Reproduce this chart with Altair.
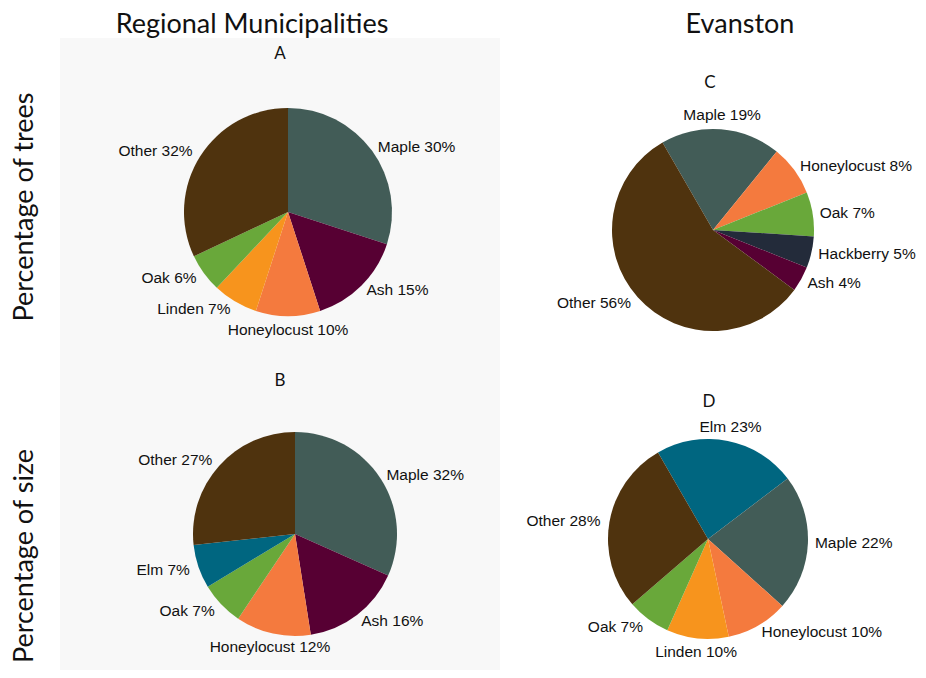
import math
import altair as alt
import pandas as pd

# ---------------- data ----------------
a_species = ["Maple", "Ash", "Honeylocust", "Linden", "Oak", "Other"]
a_values = [30, 15, 10, 7, 6, 32]
b_species = ["Maple", "Ash", "Honeylocust", "Oak", "Elm", "Other"]
b_values = [32, 16, 12, 7, 7, 27]
c_species = ["Maple", "Honeylocust", "Oak", "Hackberry", "Ash", "Other"]
c_values = [19, 8, 7, 5, 4, 56]
d_species = ["Elm", "Maple", "Honeylocust", "Linden", "Oak", "Other"]
d_values = [23, 22, 10, 10, 7, 28]

panel_letters = ["A", "B", "C", "D"]
column_titles = ["Regional Municipalities", "Evanston"]
row_titles = ["Percentage of trees", "Percentage of size"]

species_domain = ["Maple", "Ash", "Honeylocust", "Linden", "Oak", "Elm", "Hackberry", "Other"]
species_colors = ["#425c57", "#570033", "#f47a3e", "#f7941d", "#69a83a", "#006680", "#232b3a", "#4f330e"]

W, H = 910, 662
LABEL_FONT = "Liberation Sans"
TITLE_FONT = "Lato"

color = alt.Color("species:N",
                  scale=alt.Scale(domain=species_domain, range=species_colors),
                  legend=None)


def make_df(species, values):
    return pd.DataFrame({"species": species, "value": values,
                         "order": list(range(len(species)))})


def pie(species, values, cx, cy, r, start_deg):
    off = math.radians(start_deg) + 2 * math.pi
    th = alt.Scale(domain=[0, 1], range=[off, off + 2 * math.pi])
    base = (
        alt.Chart(make_df(species, values))
        .transform_joinaggregate(total="sum(value)")
        .transform_window(cum="sum(value)", sort=[alt.SortField("order")], frame=[None, 0])
        .transform_calculate(end="datum.cum / datum.total",
                             start="(datum.cum - datum.value) / datum.total")
        .transform_calculate(mid="(datum.start + datum.end) / 2",
                             label="datum.species + ' ' + datum.value + '%'")
        .transform_calculate(s=f"sin({off} + 2 * PI * datum.mid)")
        .transform_calculate(side="datum.s > 0.25 ? 'right' : (datum.s < -0.25 ? 'left' : 'center')")
    )
    arcs = base.mark_arc(radius=r, stroke=None).encode(
        x=alt.value(cx), y=alt.value(cy),
        theta=alt.Theta("start:Q", scale=th, stack=False),
        theta2="end:Q",
        color=color,
    )
    layers = [arcs]
    for side, align, rad in [("right", "left", r + 7), ("left", "right", r + 9), ("center", "center", r + 14)]:
        layers.append(
            base.transform_filter(f"datum.side == '{side}'")
            .mark_text(align=align, baseline="middle", radius=rad,
                       font=LABEL_FONT, fontSize=15.5, color="#111111")
            .encode(x=alt.value(cx), y=alt.value(cy),
                    theta=alt.Theta("mid:Q", scale=th, stack=False),
                    text="label:N")
        )
    return alt.layer(*layers)


def text_item(txt, x, y, size, angle=0, baseline="middle"):
    return alt.Chart(pd.DataFrame({"t": [txt]})).mark_text(
        font=TITLE_FONT, fontSize=size, align="center", baseline=baseline,
        angle=angle, color="#111111"
    ).encode(text="t:N", x=alt.value(x), y=alt.value(y))


bg = alt.Chart(pd.DataFrame({"t": [0]})).mark_rect(color="#f8f8f8").encode(
    x=alt.value(52), x2=alt.value(492), y=alt.value(30), y2=alt.value(H))

pies = alt.layer(
    pie(a_species, a_values, 280, 204, 104, 0),
    pie(b_species, b_values, 287, 526, 102, 0),
    pie(c_species, c_values, 705, 222, 101, -30),
    pie(d_species, d_values, 700, 531, 100, -30),
).resolve_scale(theta="independent")

texts = alt.layer(
    text_item(column_titles[0], 244, 25, 27, baseline="alphabetic"),
    text_item(column_titles[1], 732, 25, 27, baseline="alphabetic"),
    text_item(panel_letters[0], 272, 46, 17),
    text_item(panel_letters[1], 272, 373, 17),
    text_item(panel_letters[2], 702, 75, 17),
    text_item(panel_letters[3], 701, 394, 17),
    text_item(row_titles[0], 17, 199, 27, angle=270),
    text_item(row_titles[1], 17, 548, 27, angle=270),
)

chart = alt.layer(bg, pies, texts).properties(
    width=W, height=H, padding=0, autosize=alt.AutoSizeParams(type="none"),
    background="white"
).configure_view(stroke=None)

chart.save("out.html", embed_options={"renderer": "svg", "actions": False})
